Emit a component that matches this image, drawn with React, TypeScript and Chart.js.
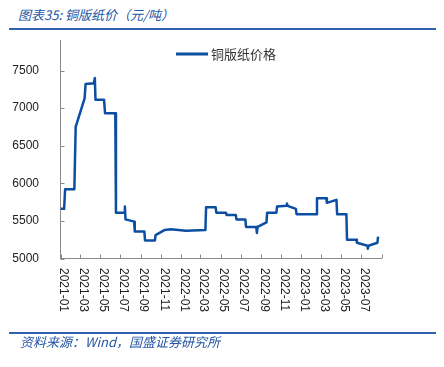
import React, { useEffect, useRef } from "react";
import { Chart, registerables } from "chart.js";

Chart.register(...registerables);

const TITLE = "图表35: 铜版纸价（元/吨）";
const SOURCE = "资料来源：Wind，国盛证券研究所";
const SERIES_NAME = "铜版纸价格";

const dates = [
  "2021-01-01", "2021-01-12", "2021-01-15", "2021-02-12", "2021-02-16", "2021-03-15",
  "2021-03-18", "2021-04-12", "2021-04-15", "2021-04-17", "2021-05-13", "2021-05-16",
  "2021-06-16", "2021-06-18", "2021-07-13", "2021-07-15", "2021-07-17", "2021-08-12",
  "2021-08-14", "2021-09-12", "2021-09-14", "2021-10-14", "2021-10-16", "2021-11-13",
  "2021-12-01", "2022-01-16", "2022-03-16", "2022-03-18", "2022-04-16", "2022-04-18",
  "2022-05-17", "2022-05-19", "2022-06-16", "2022-06-18", "2022-07-15", "2022-07-17",
  "2022-08-17", "2022-08-19", "2022-08-21", "2022-09-17", "2022-09-19", "2022-10-17",
  "2022-10-19", "2022-11-17", "2022-11-18", "2022-11-20", "2022-12-15", "2022-12-17",
  "2023-02-15", "2023-02-17", "2023-03-17", "2023-03-19", "2023-04-17", "2023-04-19",
  "2023-05-17", "2023-05-19", "2023-06-16", "2023-06-18", "2023-07-20", "2023-07-21",
  "2023-07-23", "2023-08-19", "2023-08-21",
];

const prices = [
  5660, 5660, 5920, 5920, 6750, 7130,
  7320, 7330, 7400, 7110, 7110, 6930,
  6930, 5610, 5610, 5690, 5520, 5490,
  5360, 5360, 5240, 5240, 5310, 5380,
  5390, 5370, 5380, 5680, 5680, 5610,
  5610, 5580, 5580, 5520, 5520, 5420,
  5420, 5340, 5420, 5480, 5610, 5610,
  5690, 5700, 5730, 5700, 5660, 5590,
  5590, 5800, 5800, 5740, 5780, 5590,
  5590, 5250, 5250, 5210, 5170, 5130,
  5170, 5210, 5290,
];

const yTicks = [5000, 5500, 6000, 6500, 7000, 7500];
const yMin = 5000;
const yMax = 7900;

const xTickMonths = [
  "2021-01", "2021-03", "2021-05", "2021-07", "2021-09", "2021-11",
  "2022-01", "2022-03", "2022-05", "2022-07", "2022-09", "2022-11",
  "2023-01", "2023-03", "2023-05", "2023-07", "2023-09",
];
const xTickLabels = [
  "2021-01", "2021-03", "2021-05", "2021-07", "2021-09", "2021-11",
  "2022-01", "2022-03", "2022-05", "2022-07", "2022-09", "2022-11",
  "2023-01", "2023-03", "2023-05", "2023-07", "",
];

const ORIGIN = Date.UTC(2021, 0, 1);
const dayOf = (s: string) => {
  const [y, m, d] = s.split("-").map(Number);
  return (Date.UTC(y, m - 1, d || 1) - ORIGIN) / 86400000;
};

const LINE_COLOR = "#0c4ea2";
const AXIS_COLOR = "#8a8a8a";
const TEXT_COLOR = "#222222";
const BLUE_TEXT = "#2455a5";
const RULE_COLOR = "#2f62ae";

const overlayPlugin = {
  id: "overlay",
  afterDraw(chart: any) {
    const { ctx, chartArea } = chart;
    const xs = chart.scales.x;
    const ys = chart.scales.y;
    ctx.save();
    ctx.strokeStyle = AXIS_COLOR;
    ctx.lineWidth = 1;
    // inner tick marks
    yTicks.forEach((v) => {
      const py = Math.round(ys.getPixelForValue(v)) + 0.5;
      ctx.beginPath();
      ctx.moveTo(chartArea.left, py);
      ctx.lineTo(chartArea.left + 4, py);
      ctx.stroke();
    });
    xTickMonths.forEach((m) => {
      const px = Math.round(xs.getPixelForValue(dayOf(m))) + 0.5;
      ctx.beginPath();
      ctx.moveTo(px, chartArea.bottom);
      ctx.lineTo(px, chartArea.bottom - 4);
      ctx.stroke();
    });
    // rotated x labels (clockwise)
    ctx.fillStyle = TEXT_COLOR;
    ctx.font = "12px 'Liberation Sans', Arial, sans-serif";
    ctx.textAlign = "left";
    ctx.textBaseline = "middle";
    xTickMonths.forEach((m, i) => {
      const label = xTickLabels[i];
      if (!label) return;
      const px = xs.getPixelForValue(dayOf(m)) + 3;
      ctx.save();
      ctx.translate(px, chartArea.bottom + 9.5);
      ctx.rotate(Math.PI / 2);
      ctx.fillText(label, 0, 0);
      ctx.restore();
    });
    // legend
    const ds = chart.data.datasets[0];
    ctx.strokeStyle = ds.borderColor;
    ctx.lineWidth = 3;
    ctx.beginPath();
    ctx.moveTo(176, 54);
    ctx.lineTo(208, 54);
    ctx.stroke();
    ctx.fillStyle = "#333333";
    ctx.font = "13px 'Noto Sans CJK SC', sans-serif";
    ctx.textBaseline = "middle";
    ctx.fillText(ds.label, 211, 54.5);
    ctx.restore();
  },
};

export default function App() {
  const canvasRef = useRef<HTMLCanvasElement | null>(null);

  useEffect(() => {
    if (!canvasRef.current) return;
    const bottom = 258.5;
    const pxPerUnit = 188 / 2500;
    const top = bottom - pxPerUnit * (yMax - yMin);
    const chart = new Chart(canvasRef.current, {
      type: "line",
      data: {
        datasets: [
          {
            label: SERIES_NAME,
            data: dates.map((d, i) => ({ x: dayOf(d), y: prices[i] })),
            borderColor: LINE_COLOR,
            borderWidth: 2.5,
            pointRadius: 0,
            tension: 0,
            fill: false,
            borderJoinStyle: "round",
            borderCapStyle: "butt",
          },
        ],
      },
      options: {
        responsive: false,
        animation: false,
        layout: { padding: { top: top, right: 444 - 381.7, left: 0, bottom: 0 } },
        plugins: { legend: { display: false }, tooltip: { enabled: false } },
        scales: {
          x: {
            type: "linear",
            min: 0,
            max: dayOf("2023-09-01"),
            afterBuildTicks: (s: any) => {
              s.ticks = xTickMonths.map((m) => ({ value: dayOf(m) }));
            },
            afterFit: (s: any) => {
              s.height = 367 - bottom;
            },
            ticks: { display: false },
            grid: { display: false },
            border: { display: true, color: AXIS_COLOR, width: 1 },
          },
          y: {
            min: yMin,
            max: yMax,
            afterBuildTicks: (s: any) => {
              s.ticks = yTicks.map((v) => ({ value: v }));
            },
            afterFit: (s: any) => {
              s.width = 60.5;
            },
            ticks: {
              color: TEXT_COLOR,
              padding: 13.5,
              font: { family: "'Liberation Sans', Arial, sans-serif", size: 12 },
              callback: (v: any) => String(v),
            },
            grid: { display: false },
            border: { display: true, color: AXIS_COLOR, width: 1 },
          },
        },
      },
      plugins: [overlayPlugin],
    } as any);
    return () => chart.destroy();
  }, []);

  const cjk = "'Noto Sans CJK SC', sans-serif";
  return (
    <div style={{ position: "fixed", left: 0, top: 0, width: 444, height: 367, background: "#fff", overflow: "hidden" }}>
      <div style={{ position: "absolute", left: 18, top: 6, fontFamily: cjk, fontStyle: "italic", fontSize: 13, lineHeight: "18px", color: BLUE_TEXT, whiteSpace: "nowrap" }}>
        {TITLE}
      </div>
      <div style={{ position: "absolute", left: 9, top: 28, width: 427, height: 2, background: RULE_COLOR }} />
      <canvas ref={canvasRef} width={444} height={367} style={{ position: "absolute", left: 0, top: 0, width: 444, height: 367 }} />
      <div style={{ position: "absolute", left: 9, top: 332, width: 427, height: 2, background: RULE_COLOR }} />
      <div style={{ position: "absolute", left: 20, top: 333, fontFamily: cjk, fontStyle: "italic", fontSize: 13, lineHeight: "18px", color: BLUE_TEXT, whiteSpace: "nowrap" }}>
        {SOURCE}
      </div>
    </div>
  );
}
